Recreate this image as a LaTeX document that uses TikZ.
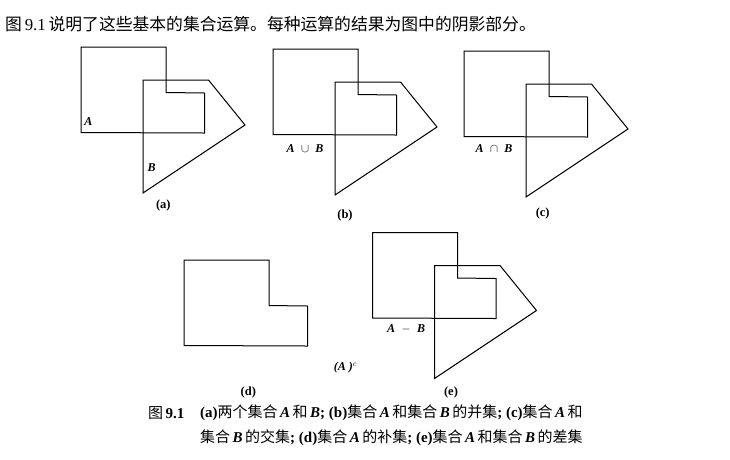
\documentclass[tikz,border=0pt]{standalone}
\usepackage{fontspec}
\setmainfont{Liberation Serif}
\newfontfamily\cjk{Noto Sans CJK SC}
\newcommand{\zh}[1]{{\cjk\mdseries #1}}
\usepackage{tikz}

\tikzset{
  setline/.style={line width=1pt,line join=miter},
  setlabel/.style={font=\fontsize{12}{14}\selectfont\bfseries\itshape,inner sep=0pt},
  panelcap/.style={font=\fontsize{12.5}{14}\selectfont\bfseries,inner sep=0pt},
  textline/.style={anchor=west,inner sep=0pt},
  captext/.style={textline,font=\fontsize{15}{17}\selectfont\bfseries},
}

\begin{document}
\begin{tikzpicture}[x=1pt,y=-1pt]
\useasboundingbox (0,0) rectangle (730,459);

\node[textline,font=\fontsize{16.8}{18}\selectfont] (title) at (5,24)
  {\zh{图}\,9.1\,\zh{说明了这些基本的集合运算。每种运算的结果为图中的阴影部分。}};

% the two sets A and B, once per panel
\foreach \dx/\dy in {0/0, 192/2, 383/4, 291.5/185.5}
{
  \begin{scope}[shift={(\dx,\dy)}]
    \draw[setline] (81,47) -- (166,47) -- (166,92.5) -- (204.5,93) -- (204.5,133) -- (81,132.5) -- cycle;
    \draw[setline] (143,80) -- (208.5,80) -- (245,125) -- (143,193) -- cycle;
  \end{scope}
}
% complement panel
\begin{scope}[shift={(103,213)}]
  \draw[setline] (81,47) -- (166,47) -- (166,92.5) -- (204.5,93) -- (204.5,133) -- (81,132.5) -- cycle;
\end{scope}

\foreach \x/\y/\t/\s in {88.3/121.7/setA/A, 151.7/167.7/setB/B,
                         305/148.3/union/{A\; $\cup$\; B}, 494/148.3/inter/{A\; $\cap$\; B},
                         345.5/367.7/compl/{(A )$^c$}, 406/329.3/diff/{A\; $-$\; B}}
  \node[setlabel] (\t) at (\x,\y) {\s};

\foreach \x/\y/\t in {163.3/205/a, 345/215/b, 542.7/213.3/c, 248.3/392.3/d, 451/392/e}
  \node[panelcap] (cap\t) at (\x,\y) {(\t)};

\node[captext] (figno) at (148,413) {\zh{图}\,9.1};
\node[captext] (capline1) at (200,413)
  {(a)\zh{两个集合}\,\textit{A}\,\zh{和}\,\textit{B}; (b)\zh{集合}\,\textit{A}\,\zh{和集合}\,\textit{B}\,\zh{的并集}; (c)\zh{集合}\,\textit{A}\,\zh{和}};
\node[captext] (capline2) at (200,438)
  {\zh{集合}\,\textit{B}\,\zh{的交集}; (d)\zh{集合}\,\textit{A}\,\zh{的补集}; (e)\zh{集合}\,\textit{A}\,\zh{和集合}\,\textit{B}\,\zh{的差集}};

\end{tikzpicture}
\end{document}
